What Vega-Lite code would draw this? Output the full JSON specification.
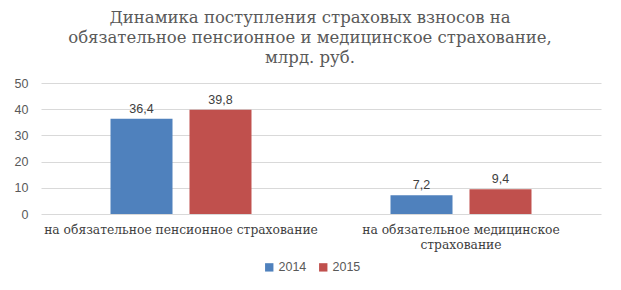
{
  "$schema": "https://vega.github.io/schema/vega-lite/v6.json",
  "autosize": "none",
  "width": 560,
  "height": 131,
  "padding": {"left": 41, "top": 83, "right": 20, "bottom": 76},
  "background": "white",
  "config": {
    "locale": {"number": {"decimal": ",", "thousands": " ", "grouping": [3], "currency": ["", ""]}},
    "view": {"stroke": null}
  },
  "title": {
    "text": ["Динамика поступления страховых взносов на", "обязательное пенсионное и медицинское страхование,", "млрд. руб."],
    "font": "DejaVu Serif",
    "fontSize": 16.5,
    "fontWeight": "normal",
    "color": "#595959",
    "lineHeight": 20,
    "anchor": "middle",
    "dx": -11,
    "offset": 11
  },
  "data": {
    "values": [
      {"category": "на обязательное пенсионное страхование", "year": "2014", "value": 36.4},
      {"category": "на обязательное пенсионное страхование", "year": "2015", "value": 39.8},
      {"category": "на обязательное медицинское страхование", "year": "2014", "value": 7.2},
      {"category": "на обязательное медицинское страхование", "year": "2015", "value": 9.4}
    ]
  },
  "encoding": {
    "x": {
      "field": "category",
      "type": "nominal",
      "sort": null,
      "scale": {"paddingInner": 0, "paddingOuter": 0},
      "axis": {
        "title": null,
        "labelAngle": 0,
        "ticks": false,
        "domain": false,
        "labelFont": "DejaVu Serif",
        "labelFontSize": 12.3,
        "labelColor": "#404040",
        "labelPadding": 9,
        "labelLineHeight": 15,
        "labelLimit": 400,
        "labelExpr": "datum.label == 'на обязательное медицинское страхование' ? ['на обязательное медицинское', 'страхование'] : datum.label"
      }
    },
    "xOffset": {
      "field": "year",
      "type": "nominal",
      "scale": {"paddingInner": 0.215, "paddingOuter": 0.88}
    },
    "y": {
      "field": "value",
      "type": "quantitative",
      "scale": {"domain": [0, 50]},
      "axis": {
        "title": null,
        "values": [0, 10, 20, 30, 40, 50],
        "ticks": false,
        "domain": false,
        "grid": true,
        "gridColor": "#d9d9d9",
        "labelFont": "Liberation Sans",
        "labelFontSize": 12.5,
        "labelColor": "#595959",
        "labelPadding": 13
      }
    }
  },
  "layer": [
    {
      "mark": {"type": "bar"},
      "encoding": {
        "color": {
          "field": "year",
          "type": "nominal",
          "scale": {"domain": ["2014", "2015"], "range": ["#4f81bd", "#c0504d"]},
          "legend": {
            "title": null,
            "orient": "none",
            "direction": "horizontal",
            "legendX": 222,
            "legendY": 178,
            "symbolType": "square",
            "symbolSize": 70,
            "symbolStrokeWidth": 0,
            "labelFont": "Liberation Sans",
            "labelFontSize": 12.5,
            "labelColor": "#595959",
            "labelOffset": 3,
            "columnPadding": 10
          }
        }
      }
    },
    {
      "mark": {"type": "text", "dy": -10, "font": "Liberation Sans", "fontSize": 12.5, "color": "#404040"},
      "encoding": {
        "text": {"field": "value", "type": "quantitative", "format": ".1f"}
      }
    }
  ]
}
